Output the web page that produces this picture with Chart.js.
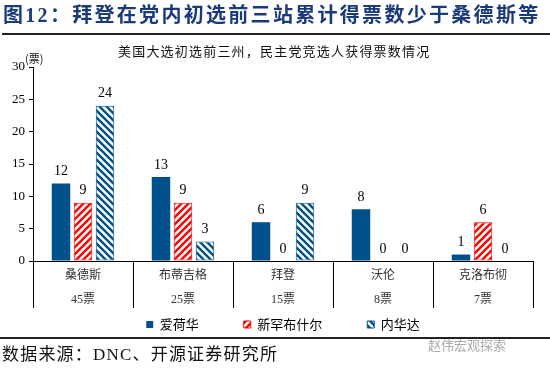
<!DOCTYPE html>
<html>
<head>
<meta charset="utf-8">
<script src="https://cdn.jsdelivr.net/npm/chart.js@4.4.0/dist/chart.umd.min.js"></script>
<style>
  html, body { margin: 0; padding: 0; background: #fff; }
  #wrap { position: relative; width: 550px; height: 368px; overflow: hidden; }
  #chart { position: absolute; left: 0; top: 0; }
  .title { position: absolute; left: 3px; top: 3px; font-family: "Liberation Serif", "Noto Sans CJK SC"; font-weight: bold;
           font-size: 20px; letter-spacing: 2.3px; line-height: 24px; color: #1b3a7a; white-space: nowrap; }
  .rule1 { position: absolute; left: 2px; right: 0; top: 33px; height: 2px; background: #222; }
  .sub { position: absolute; left: 118px; top: 43px; font-family: "Noto Sans CJK SC"; font-size: 13px;
         letter-spacing: 1.2px; line-height: 16px; color: #111; white-space: nowrap; }
  .unit { position: absolute; left: 25px; top: 51px; font-family: "Noto Sans CJK SC"; font-size: 11px; line-height: 14px; color: #111; }
  .rule2 { position: absolute; left: 0; right: 0; top: 337px; height: 2px; background: #222; }
  .src { position: absolute; left: 2px; top: 344px; font-family: "Liberation Serif", "Noto Sans CJK SC"; font-size: 17px;
         letter-spacing: 1.2px; line-height: 22px; color: #111; white-space: nowrap; }
  .wm { position: absolute; left: 428px; top: 335px; font-family: "Noto Sans CJK SC"; font-size: 13px; color: #aaa; }
</style>
</head>
<body>
<div id="wrap">
  <canvas id="chart" width="550" height="368"></canvas>
  <div class="title">图12：拜登在党内初选前三站累计得票数少于桑德斯等</div>
  <div class="rule1"></div>
  <div class="sub">美国大选初选前三州，民主党竞选人获得票数情况</div>
  <div class="unit">(票)</div>
  <div class="rule2"></div>
  <div class="wm">赵伟宏观探索</div>
  <div class="src">数据来源：DNC、开源证券研究所</div>
</div>
<script>
// data
const candidates = ['桑德斯', '布蒂吉格', '拜登', '沃伦', '克洛布彻'];
const totals = ['45票', '25票', '15票', '8票', '7票'];
const iowa = [12, 13, 6, 8, 1];
const newHampshire = [9, 9, 0, 0, 6];
const nevada = [24, 3, 9, 0, 0];
const yTicks = [0, 5, 10, 15, 20, 25, 30];

const FONT = '"Liberation Serif", "Noto Sans CJK SC"';

// diagonal stripe fill, dir 1 = '/', -1 = '\'
function hatch(color, dir) {
  const s = 7;
  const c = document.createElement('canvas');
  c.width = s; c.height = s;
  const g = c.getContext('2d');
  g.fillStyle = '#fff';
  g.fillRect(0, 0, s, s);
  g.strokeStyle = color;
  g.lineWidth = 2.4;
  g.beginPath();
  if (dir > 0) {
    g.moveTo(-1, s + 1); g.lineTo(s + 1, -1);
    g.moveTo(-1, 1); g.lineTo(1, -1);
    g.moveTo(s - 1, s + 1); g.lineTo(s + 1, s - 1);
  } else {
    g.moveTo(-1, -1); g.lineTo(s + 1, s + 1);
    g.moveTo(s - 1, -1); g.lineTo(s + 1, 1);
    g.moveTo(-1, s - 1); g.lineTo(1, s + 1);
  }
  g.stroke();
  return g.createPattern(c, 'repeat');
}

// numbers above the bars
const valueLabels = {
  id: 'valueLabels',
  afterDatasetsDraw(chart) {
    const ctx = chart.ctx;
    ctx.save();
    ctx.font = '14px "Liberation Serif"';
    ctx.fillStyle = '#000';
    ctx.textAlign = 'center';
    ctx.textBaseline = 'bottom';
    chart.data.datasets.forEach((ds, i) => {
      chart.getDatasetMeta(i).data.forEach((bar, j) => {
        ctx.fillText(ds.data[j], bar.x, bar.y - 5);
      });
    });
    ctx.restore();
  }
};

const blue = '#00508a';
const red = '#ff0000';

new Chart(document.getElementById('chart'), {
  type: 'bar',
  data: {
    labels: candidates.map((c, i) => [c, totals[i]]),
    datasets: [
      { label: '爱荷华', data: iowa, backgroundColor: blue, borderWidth: 0 },
      { label: '新罕布什尔', data: newHampshire, backgroundColor: hatch(red, 1), borderColor: red, borderWidth: 1, borderSkipped: false },
      { label: '内华达', data: nevada, backgroundColor: hatch(blue, -1), borderColor: blue, borderWidth: 1, borderSkipped: false }
    ]
  },
  options: {
    responsive: false,
    animation: false,
    events: [],
    categoryPercentage: 0.66,
    barPercentage: 0.84,
    layout: { padding: { top: 67, right: 17, left: 0, bottom: 27 } },
    plugins: {
      tooltip: { enabled: false },
      legend: {
        position: 'bottom',
        fullSize: false,
        labels: {
          boxWidth: 7,
          boxHeight: 7,
          padding: 6,
          color: '#000',
          font: { family: '"Noto Sans CJK SC"', size: 13 },
          generateLabels(chart) {
            const items = Chart.defaults.plugins.legend.labels.generateLabels(chart);
            return items.map((it, i) => Object.assign(it, {
              text: it.text + (i < items.length - 1 ? '\u3000\u3000\u3000' : '')
            }));
          }
        }
      }
    },
    scales: {
      x: {
        afterFit(scale) { scale.height = 51; },
        grid: { drawOnChartArea: false, tickLength: 47, color: '#000', offset: true },
        border: { color: '#000', width: 1 },
        ticks: {
          padding: -44,
          maxRotation: 0,
          color: '#333',
          font: { family: FONT, size: 12, lineHeight: 2 }
        }
      },
      y: {
        min: 0,
        max: 30,
        afterFit(scale) { scale.width = 33; },
        afterBuildTicks(scale) { scale.ticks = yTicks.map(v => ({ value: v })); },
        grid: { drawOnChartArea: false, tickLength: 4, color: '#000' },
        border: { color: '#000', width: 1 },
        ticks: { padding: 4, color: '#000', font: { family: FONT, size: 13 } }
      }
    }
  },
  plugins: [valueLabels]
});
</script>
</body>
</html>
